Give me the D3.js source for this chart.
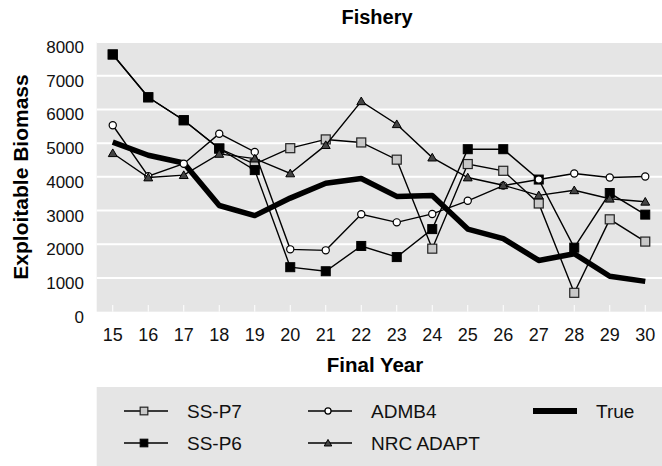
<!DOCTYPE html>
<html><head><meta charset="utf-8">
<script src="https://cdn.jsdelivr.net/npm/d3@7"></script>
<style>body{margin:0;background:#fff}svg{display:block}text{font-family:"Liberation Sans",Arial,Helvetica,sans-serif}</style>
</head><body>
<svg id="c" width="662" height="466"></svg>
<script>
const years = [15,16,17,18,19,20,21,22,23,24,25,26,27,28,29,30];
const yTicks = [0,1000,2000,3000,4000,5000,6000,7000,8000];
const ssP7  = [7630,6360,5680,4840,4380,4850,5110,5020,4510,1870,4380,4180,3210,560,2740,2080];
const ssP6  = [7630,6360,5680,4840,4200,1320,1200,1950,1620,2450,4820,4820,3920,1900,3520,2880];
const admb4 = [5530,4020,4390,5280,4740,1850,1820,2890,2650,2900,3290,3740,3920,4100,3980,4010];
const nrc   = [4700,3980,4050,4680,4540,4100,4940,6240,5560,4570,3980,3750,3450,3600,3350,3260];
const trueB = [5030,4640,4410,3150,2850,3370,3810,3950,3420,3450,2450,2170,1520,1720,1050,900];

const svg = d3.select("#c");
const L = 96.7, R = 662, T = 42, B = 311.7;
const x = d3.scaleBand().domain(years).range([95, 663]).padding(0);
const cx = d => x(d) + x.bandwidth()/2;
const y = d3.scaleLinear().domain([0,8000]).range([B, T]);

// panel
svg.append("rect").attr("x",L).attr("y",T).attr("width",R-L).attr("height",B-T).attr("fill","#e5e5e5");
// gridlines
svg.append("g").selectAll("line").data(yTicks.filter(v=>v>0)).join("line")
  .attr("x1",L).attr("x2",R).attr("y1",d=>y(d)).attr("y2",d=>y(d))
  .attr("stroke","#fff").attr("stroke-width",2);
// x ticks (inside, white)
svg.append("g").selectAll("line").data(years).join("line")
  .attr("x1",d=>cx(d)).attr("x2",d=>cx(d)).attr("y1",305).attr("y2",B)
  .attr("stroke","#fff").attr("stroke-width",1);

// axes labels
const yAxis = d3.axisLeft(y).tickValues(yTicks).tickFormat(d3.format("d")).tickSize(0).tickPadding(0);
const ga = svg.append("g").attr("transform","translate(84,0)").call(yAxis);
ga.select(".domain").remove();
ga.selectAll("text").attr("font-size",17).attr("fill","#111").attr("dy",null).attr("y",10.5);
const xAxis = d3.axisBottom(x).tickSize(0).tickPadding(0);
const gx = svg.append("g").attr("transform","translate(0,341)").call(xAxis);
gx.select(".domain").remove();
gx.selectAll("text").attr("font-size",18).attr("fill","#111").attr("dy",null).attr("y",0);

svg.append("text").attr("x",377).attr("y",24).attr("text-anchor","middle").attr("font-size",20).attr("font-weight","bold").text("Fishery");
svg.append("text").attr("x",375).attr("y",372).attr("text-anchor","middle").attr("font-size",20.5).attr("font-weight","bold").text("Final Year");
svg.append("text").attr("transform","translate(28,177) rotate(-90)").attr("text-anchor","middle").attr("font-size",21).attr("font-weight","bold").text("Exploitable Biomass");

const line = d3.line().x((d,i)=>cx(years[i])).y(d=>y(d));

// True line
svg.append("path").attr("d",line(trueB)).attr("fill","none").attr("stroke","#000").attr("stroke-width",5.5).attr("stroke-linejoin","round");

function marker(g, type, px, py, s) {
  if (type==="sqGray") g.append("rect").attr("x",px-4.5*s).attr("y",py-4.5*s).attr("width",9*s).attr("height",9*s).attr("fill","#c8c8c8").attr("stroke","#222").attr("stroke-width",1.2);
  else if (type==="sqBlack") g.append("rect").attr("x",px-4.5*s).attr("y",py-4.5*s).attr("width",9*s).attr("height",9*s).attr("fill","#000").attr("stroke","#000").attr("stroke-width",1);
  else if (type==="circle") g.append("circle").attr("cx",px).attr("cy",py).attr("r",3.6*s).attr("fill","#fff").attr("stroke","#000").attr("stroke-width",1.2);
  else if (type==="tri") g.append("path").attr("d",d3.symbol().type(d3.symbolTriangle).size(34*s*s)()).attr("transform",`translate(${px},${py+0.8})`).attr("fill","#444").attr("stroke","#000").attr("stroke-width",1);
}

const series = [
  {name:"SS-P7", vals:ssP7, m:"sqGray"},
  {name:"SS-P6", vals:ssP6, m:"sqBlack"},
  {name:"ADMB4", vals:admb4, m:"circle"},
  {name:"NRC ADAPT", vals:nrc, m:"tri"}
];
series.forEach(s=>{
  const g = svg.append("g");
  g.append("path").attr("d",line(s.vals)).attr("fill","none").attr("stroke","#000").attr("stroke-width",1.4);
  s.vals.forEach((v,i)=>marker(g, s.m, cx(years[i]), y(v), 1));
});

// legend
svg.append("rect").attr("x",L).attr("y",387).attr("width",R-L).attr("height",466-387).attr("fill","#e5e5e5");
const leg = [
  {name:"SS-P7", m:"sqGray", x:124, y:411, tx:187},
  {name:"ADMB4", m:"circle", x:308, y:411, tx:371},
  {name:"True", m:"thick", x:533, y:411, tx:596},
  {name:"SS-P6", m:"sqBlack", x:124, y:443, tx:187},
  {name:"NRC ADAPT", m:"tri", x:308, y:443, tx:371}
];
leg.forEach(d=>{
  const g = svg.append("g");
  if (d.m==="thick") {
    g.append("line").attr("x1",d.x).attr("x2",d.x+44).attr("y1",d.y).attr("y2",d.y).attr("stroke","#000").attr("stroke-width",6);
  } else {
    g.append("line").attr("x1",d.x).attr("x2",d.x+44).attr("y1",d.y).attr("y2",d.y).attr("stroke","#000").attr("stroke-width",1.3);
    marker(g, d.m, d.x+20, d.y, 0.85);
  }
  g.append("text").attr("x",d.tx).attr("y",d.y+7).attr("font-size",19).attr("fill","#111").text(d.name);
});
</script>
</body></html>
